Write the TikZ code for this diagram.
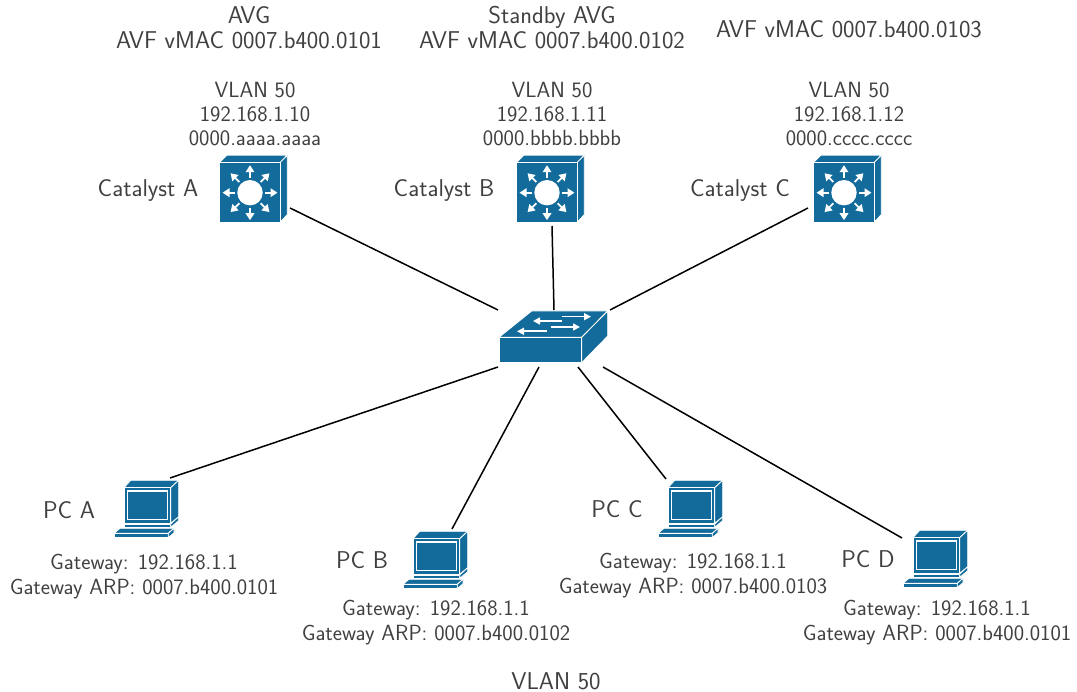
\documentclass[tikz,border=0pt]{standalone}
\usetikzlibrary{arrows.meta}
\definecolor{ciscob}{HTML}{126B9B}
\tikzset{
  lbl/.style={font=\sffamily\fontsize{24.3}{25}\selectfont,align=center,text=black!75,inner sep=0pt},
  sml/.style={font=\sffamily\fontsize{22}{24.3}\selectfont,align=center,text=black!75,inner sep=0pt},
  link/.style={draw=black,line width=1.5pt},
  face/.style={fill=ciscob,draw=white,line width=.8pt,line join=round},
  wa/.style={draw=white,line width=1.8pt,-{Stealth[length=7pt,width=8.5pt,inset=0pt]}},
  wb/.style={draw=white,line width=1.6pt,-{Stealth[length=7pt,width=7pt,inset=0pt]}},
  l3sw/.pic={
    \path[face] (0,0)--(7.5,-7.5)--(68,-7.5)--(60.7,0)--cycle;
    \path[face] (60.7,0)--(68,-7.5)--(68,52)--(60.7,59.5)--cycle;
    \path[face] (0,0) rectangle (60.7,59.5);
    \fill[white] (30.7,30) circle (12.7);
    \foreach \a in {0,45,...,315}
      \draw[wa] (30.7,30)++(\a:15)--++(\a:12.5);
  },
  l2sw/.pic={
    \path[face] (0,0)--(32.7,-26.3)--(108.7,-26.3)--(82.7,0)--cycle;
    \path[face] (82.7,0)--(108.7,-26.3)--(108.7,-1.3)--(82.7,25.4)--cycle;
    \path[face] (0,0) rectangle (82.7,25.4);
    \draw[wb] (62.7,-20.6)--(92,-20.6);
    \draw[wb] (63,-16.3)--(34,-16.3);
    \draw[wb] (51.7,-10.3)--(81,-10.3);
    \draw[wb] (47.7,-6)--(18,-6);
  },
  pcicon/.pic={
    \path[face] (10,0)--(16.7,-7.4)--(64.7,-7.4)--(56.7,0)--cycle;
    \path[face] (56.7,0)--(64.7,-7.4)--(64.7,29)--(56.7,35.6)--cycle;
    \path[face] (10,0) rectangle (56.7,35.6);
    \draw[white,line width=1.3pt] (13.3,3.3) rectangle (53.3,31.6);
    \path[face] (10,36.3) rectangle (56.7,39.6);
    \path[face] (56.7,39.6)--(56.7,36.3)--(64.7,29)--(64.7,33)--cycle;
    \path[face] (0,45.6)--(6,40.6)--(60,40.6)--(54.3,45.6)--cycle;
    \path[face] (0,45.6) rectangle (54.3,50);
    \path[face] (54.3,50)--(54.3,45.6)--(60,40.6)--(60,45)--cycle;
  }
}
\begin{document}
\begin{tikzpicture}[x=1pt,y=-1pt]
\useasboundingbox (0,0) rectangle (1077,692);
% icons
\pic at (219.3,162.7) {l3sw};
\pic at (516.3,162.7) {l3sw};
\pic at (813.3,162.7) {l3sw};
\pic at (499,337.3) {l2sw};
\pic at (114,487.7) {pcicon};
\pic at (403,538.7) {pcicon};
\pic at (658,487.7) {pcicon};
\pic at (903,537.7) {pcicon};
% named link ends
\coordinate (catA) at (290,208);
\coordinate (catB) at (552,226);
\coordinate (catC) at (808,208);
\coordinate (swA) at (498,310);
\coordinate (swB) at (554,310);
\coordinate (swC) at (610,310);
\coordinate (swPA) at (498,367);
\coordinate (swPB) at (539,367);
\coordinate (swPC) at (578,367);
\coordinate (swPD) at (603,367);
\coordinate (pcA) at (170,478);
\coordinate (pcB) at (452,529);
\coordinate (pcC) at (666,479);
\coordinate (pcD) at (902,538);
\draw[link] (catA)--(swA);
\draw[link] (catB)--(swB);
\draw[link] (catC)--(swC);
\draw[link] (swPA)--(pcA);
\draw[link] (swPB)--(pcB);
\draw[link] (swPC)--(pcC);
\draw[link] (swPD)--(pcD);
% labels
\node[lbl] (tA) at (249,28) {AVG\\AVF vMAC 0007.b400.0101};
\node[lbl] (tB) at (552,28) {Standby AVG\\AVF vMAC 0007.b400.0102};
\node[lbl] (tC) at (849,29) {AVF vMAC 0007.b400.0103};
\node[sml] (iA) at (255,114) {VLAN 50\\192.168.1.10\\0000.aaaa.aaaa};
\node[sml] (iB) at (552,114) {VLAN 50\\192.168.1.11\\0000.bbbb.bbbb};
\node[sml] (iC) at (849,114) {VLAN 50\\192.168.1.12\\0000.cccc.cccc};
\node[lbl] (nA) at (148,191) {Catalyst A};
\node[lbl] (nB) at (444,191) {Catalyst B};
\node[lbl] (nC) at (740,191) {Catalyst C};
\node[lbl] (pA) at (69,510) {PC A};
\node[lbl] (pB) at (362,560) {PC B};
\node[lbl] (pC) at (617,509) {PC C};
\node[lbl] (pD) at (868,559) {PC D};
\node[sml] (gA) at (144,576.5) {Gateway: 192.168.1.1\\Gateway ARP: 0007.b400.0101};
\node[sml] (gB) at (436,622.5) {Gateway: 192.168.1.1\\Gateway ARP: 0007.b400.0102};
\node[sml] (gC) at (693,575.5) {Gateway: 192.168.1.1\\Gateway ARP: 0007.b400.0103};
\node[sml] (gD) at (937,622.5) {Gateway: 192.168.1.1\\Gateway ARP: 0007.b400.0101};
\node[lbl] (v) at (556,681) {VLAN 50};
\end{tikzpicture}
\end{document}
